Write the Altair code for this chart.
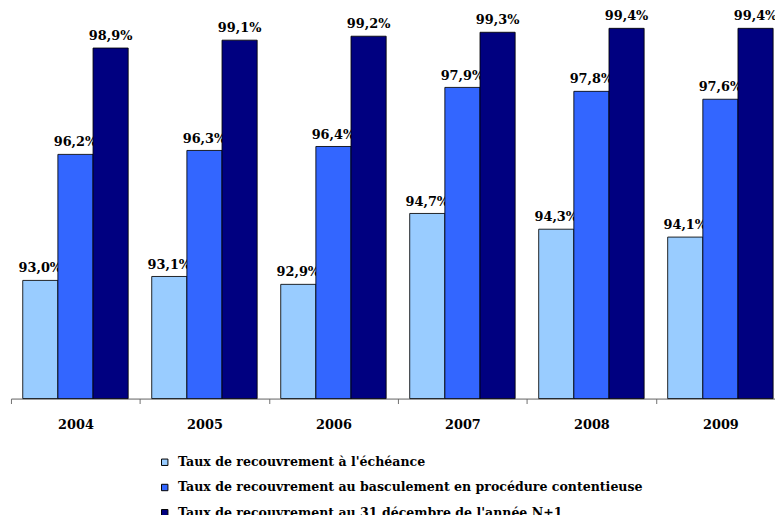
import altair as alt
import pandas as pd

years = ["2004", "2005", "2006", "2007", "2008", "2009"]
series = [
    "Taux de recouvrement à l'échéance",
    "Taux de recouvrement au basculement en procédure contentieuse",
    "Taux de recouvrement au 31 décembre de l'année N+1",
]
colors = ["#99CCFF", "#3366FF", "#000080"]
v_echeance = [93.0, 93.1, 92.9, 94.7, 94.3, 94.1]
v_bascule = [96.2, 96.3, 96.4, 97.9, 97.8, 97.6]
v_n1 = [98.9, 99.1, 99.2, 99.3, 99.4, 99.4]

rows = []
for s, vals in zip(series, [v_echeance, v_bascule, v_n1]):
    for y, v in zip(years, vals):
        rows.append({"annee": y, "serie": s, "valeur": v,
                     "label": f"{v:.1f}".replace(".", ",") + "%"})
df = pd.DataFrame(rows)

FONT = "DejaVu Serif"

x_enc = alt.X("annee:N", title=None,
              scale=alt.Scale(range=[0, alt.ExprRef(expr="width * 782 / 772")],
                              paddingInner=0, paddingOuter=0),
              axis=alt.Axis(labelAngle=0, tickBand="extent", tickSize=5,
                            tickColor="#707070", domainColor="#606060",
                            labelFont=FONT, labelFontWeight="bold",
                            labelFontSize=13, labelColor="#000000",
                            labelPadding=15))
xo_enc = alt.XOffset("serie:N", sort=series,
                     scale=alt.Scale(domain=series, paddingOuter=0.335, paddingInner=0))
y_enc = alt.Y("valeur:Q", axis=None,
              scale=alt.Scale(domain=[90, 99.85], zero=False, nice=False))

base = alt.Chart(df)

text = base.mark_text(font=FONT, fontWeight="bold", fontSize=13,
                      color="#000000", baseline="alphabetic", dy=-8).encode(
    x=x_enc, xOffset=xo_enc, y=y_enc, text="label:N")

bars = base.mark_bar(stroke="#000000", strokeWidth=1, strokeOpacity=0.85).encode(
    x=x_enc, xOffset=xo_enc, y=y_enc, y2=alt.datum(90),
    color=alt.Color("serie:N", sort=series,
                    scale=alt.Scale(domain=series, range=colors),
                    legend=alt.Legend(title=None, orient="none",
                                      legendX=149, legendY=450,
                                      direction="vertical",
                                      symbolType="square", symbolSize=42,
                                      symbolStrokeColor="#000000",
                                      symbolStrokeWidth=1,
                                      labelFont=FONT, labelFontWeight="bold",
                                      labelFontSize=12.7, labelColor="#000000",
                                      labelOffset=7, labelLimit=700,
                                      rowPadding=11.5, padding=0)))

chart = alt.layer(text, bars).properties(
    width=772, height=392,
    autosize=alt.AutoSizeParams(type="none"),
    padding={"left": 3, "top": 0, "right": 0, "bottom": 115},
).configure_view(stroke=None)

chart.save("out.html", embed_options={"renderer": "svg", "actions": False})
